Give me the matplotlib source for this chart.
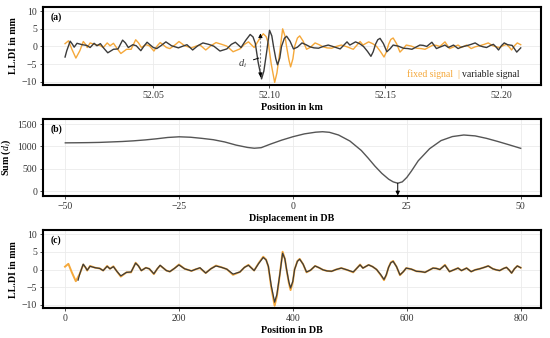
import numpy as np
import matplotlib
matplotlib.use("Agg")
import matplotlib.pyplot as plt
from matplotlib.offsetbox import TextArea, HPacker, AnchoredOffsetbox

plt.rcParams['font.family'] = ['Liberation Serif', 'DejaVu Serif']
plt.rcParams['mathtext.fontset'] = 'custom'
plt.rcParams['mathtext.rm'] = 'Liberation Serif'
plt.rcParams['mathtext.it'] = 'Liberation Serif:italic'
plt.rcParams['mathtext.bf'] = 'Liberation Serif:bold'

ORANGE = '#F5A83A'
DARK = '#3b3b3b'

# fixed signal, positions in DB (0.25 m steps) and values in mm
fixed_db = [0, 6, 12, 19, 26, 32, 36, 39, 44, 53, 61, 67, 74, 79, 85, 91, 98, 108, 116, 124,
            129, 134, 142, 148, 156, 162, 167, 172, 178, 184, 192, 200, 210, 222, 230, 237, 247,
            256, 265, 275, 284, 295, 307, 315, 322, 332, 340, 348, 353, 357, 362, 368, 372, 377,
            382, 386, 389, 393, 396, 400, 403, 408, 412, 418, 424, 431, 439, 446, 453, 460, 468,
            476, 485, 495, 506, 512, 518, 523, 533, 540, 547, 554, 560, 564, 568, 572, 576, 582,
            588, 594, 599, 608, 617, 625, 632, 639, 646, 652, 658, 667, 675, 684, 690, 696, 705,
            713, 720, 728, 736, 743, 751, 757, 763, 770, 775, 780, 784, 789, 794, 800]
fixed_mm = [0.8, 1.6, -0.8, -3.3, -1.2, 1.4, 0.6, -0.3, 1.0, 0.5, 0.3, -0.3, 1.0, 0.2, 0.9, -0.5,
            -2.0, -0.8, -0.8, 1.9, 1.0, -0.3, 0.5, 0.2, -1.3, 0.2, 1.1, 0.5, -0.3, -0.6, 0.3, 1.4,
            0.2, -0.4, 0.1, 0.4, -1.0, 0.2, 1.1, 0.6, 0.1, -1.5, -0.7, 0.6, 1.3, -0.3, 1.8, 3.6,
            2.8, 0.8, -5.0, -10.2, -7.5, -1.5, 5.0, 3.0, -0.1, -3.8, -5.8, -3.5, 0.0, 2.4, 3.0,
            1.5, -0.8, -0.2, 1.0, 0.5, -0.1, -0.4, -0.5, 0.0, 0.4, -0.1, -0.8, 0.3, 1.4, 0.4, 1.3,
            0.8, 0.0, -1.5, -3.0, -1.6, 0.6, 2.0, 2.4, 0.8, -1.6, -0.6, 0.4, 0.1, -0.5, -0.6, -0.8,
            -0.2, 0.4, 0.3, 0.0, 1.3, -0.6, 0.0, 0.4, -0.3, 0.4, -0.6, -0.1, 0.2, 0.6, 1.0, 0.2,
            -0.1, -0.3, 0.3, 0.6, -0.2, -1.0, 0.2, 1.0, 0.5]

# variable signal, positions in DB and values in mm
var_db = [0, 3, 9, 13, 16, 21, 30, 38, 44, 51, 56, 62, 68, 75, 85, 93, 101, 106, 111, 119, 125,
          133, 139, 144, 149, 155, 161, 169, 177, 187, 199, 207, 214, 224, 233, 242, 252, 261,
          272, 284, 292, 299, 309, 317, 325, 330, 334, 339, 345, 349, 354, 359, 363, 366, 370,
          373, 377, 380, 385, 389, 395, 401, 408, 416, 423, 430, 437, 445, 453, 462, 472, 483,
          489, 495, 500, 510, 517, 524, 531, 537, 541, 545, 549, 553, 559, 565, 571, 576, 585,
          594, 602, 609, 616, 623, 629, 635, 644, 652, 661, 667, 673, 682, 690, 697, 705, 713,
          720, 728, 734, 740, 747, 752, 757, 761, 766, 771, 777, 785, 793, 800]
var_mm = [-3.0, -1.2, 1.5, 0.6, -0.2, 0.9, 0.5, 0.3, -0.3, 0.9, 0.2, 0.8, -0.5, -1.8, -0.8, -0.7,
          1.8, 1.0, -0.3, 0.5, 0.2, -1.2, 0.2, 1.2, 0.5, -0.3, -0.6, 0.3, 1.3, 0.2, -0.4, 0.1, 0.5,
          -1.0, 0.2, 1.0, 0.6, 0.1, -1.3, -0.7, 0.6, 1.2, -0.3, 1.7, 3.4, 2.7, 0.9, -4.5, -9.2,
          -7.0, -1.5, 4.6, 3.0, 0.0, -3.5, -5.2, -3.3, 0.0, 2.3, 2.9, 1.5, -0.7, -0.2, 1.0, 0.5,
          -0.1, -0.4, -0.5, 0.0, 0.4, -0.1, -0.7, 0.3, 1.3, 0.4, 1.3, 0.8, 0.0, -1.4, -2.8, -1.5,
          0.6, 1.9, 2.3, 0.8, -1.5, -0.6, 0.4, 0.1, -0.5, -0.6, -0.8, -0.2, 0.4, 0.3, 0.0, 1.2,
          -0.6, 0.0, 0.4, -0.3, 0.4, -0.6, -0.1, 0.2, 0.6, 1.0, 0.2, -0.1, -0.3, 0.3, 0.6, -0.2,
          -1.0, 0.2, 1.0, 0.5, 0.3, -1.6, -0.4]

# sum of differences per displacement
disp_db = [-50, -47.5, -45, -42.5, -40, -37.5, -35, -32.5, -30, -27.5, -25, -22.5, -20, -17.5,
           -15, -12.5, -10, -8.5, -7, -5, -2.5, 0, 2.5, 5, 6.5, 8, 10, 12.5, 15, 16.5, 18,
           19.5, 21, 22, 23, 24, 25, 26, 27.5, 30, 32.5, 35, 37.5, 40, 42.5, 45, 47.5, 50]
sum_d = [1080, 1082, 1085, 1090, 1100, 1110, 1125, 1145, 1170, 1200, 1215, 1205, 1180, 1150,
         1100, 1030, 978, 960, 972, 1050, 1140, 1217, 1280, 1318, 1328, 1315, 1255, 1120, 910,
         740, 560, 400, 270, 210, 180, 210, 310, 450, 680, 950, 1130, 1220, 1255, 1235, 1180,
         1110, 1035, 958]

best_shift = 23
start_km = 52.0121
db_km = 0.0002455
marker_db = 343

fixed_km = start_km + np.array(fixed_db) * db_km
var_km = start_km + np.array(var_db) * db_km
var_shift = np.array(var_db) + best_shift
keep = var_shift <= 800

fig = plt.figure(figsize=(5.5, 3.38), dpi=100)
W, H = 550.0, 338.0


def make_ax(top, bottom):
    ax = fig.add_axes([43 / W, 1 - bottom / H, (541 - 43) / W, (bottom - top) / H])
    for s in ax.spines.values():
        s.set_linewidth(1.5)
        s.set_color('black')
        s.set_zorder(5)
    ax.grid(True, color='#ebebeb', lw=0.6)
    ax.set_axisbelow(True)
    ax.tick_params(length=2.2, width=0.6, labelsize=7, pad=2, colors='#333333')
    return ax


# (a)
ax1 = make_ax(7, 85)
ax1.plot(fixed_km, fixed_mm, color=ORANGE, lw=1.0)
ax1.plot(var_km, var_mm, color=DARK, lw=1.0)
ax1.set_xlim(52.00259, 52.21724)
ax1.set_ylim(-10.94, 11.2)
ax1.set_xticks([52.05, 52.10, 52.15, 52.20])
ax1.set_xticklabels(['52.05', '52.10', '52.15', '52.20'])
ax1.set_yticks([-10, -5, 0, 5, 10])
ax1.set_xlabel('Position in km', fontsize=7.2, fontweight='bold', labelpad=2)
ax1.set_ylabel('LL.DI in mm', fontsize=7.2, fontweight='bold', labelpad=3)
ax1.text(0.015, 0.93, '(a)', transform=ax1.transAxes, fontsize=7, fontweight='bold', va='top')
mk = start_km + marker_db * db_km
ax1.plot([mk, mk], [2.6, -7.6], ls=(0, (2, 1.5)), color='#888888', lw=0.8)
ax1.annotate('', xy=(mk, 3.7), xytext=(mk, 2.4),
             arrowprops=dict(arrowstyle='-|>', color='black', lw=0.6, mutation_scale=6))
ax1.annotate('', xy=(mk, -8.7), xytext=(mk, -7.4),
             arrowprops=dict(arrowstyle='-|>', color='black', lw=0.6, mutation_scale=6))
ax1.annotate(r'$d_i$', xy=(start_km + 340 * db_km, -3.3), xytext=(start_km + 311 * db_km, -4.8),
             fontsize=7.5, color=DARK, ha='center', va='center',
             arrowprops=dict(arrowstyle='-', color='black', lw=0.7, shrinkA=3, shrinkB=0))
leg = HPacker(children=[TextArea('fixed signal', textprops=dict(color=ORANGE, size=7)),
                        TextArea('|', textprops=dict(color=ORANGE, size=7)),
                        TextArea('variable signal', textprops=dict(color='#222222', size=7))],
              align='baseline', pad=0, sep=2.5)
ax1.add_artist(AnchoredOffsetbox(loc='lower right', child=leg, frameon=False,
                                 bbox_to_anchor=(0.958, 0.08), bbox_transform=ax1.transAxes,
                                 borderpad=0, pad=0))

# (b)
ax2 = make_ax(119.3, 196)
ax2.plot(disp_db, sum_d, color='#555555', lw=1.0)
ax2.set_xlim(-54.9, 54.46)
ax2.set_ylim(-105, 1605)
ax2.set_xticks([-50, -25, 0, 25, 50])
ax2.set_xticklabels(['\u221250', '\u221225', '0', '25', '50'])
ax2.set_yticks([0, 500, 1000, 1500])
ax2.set_xlabel('Displacement in DB', fontsize=7.2, fontweight='bold', labelpad=2)
ax2.set_ylabel(r'Sum ($d_i$)', fontsize=7.2, fontweight='bold', labelpad=3)
ax2.text(0.015, 0.93, '(b)', transform=ax2.transAxes, fontsize=7, fontweight='bold', va='top')
ax2.annotate('', xy=(best_shift, -95), xytext=(best_shift, 180),
             arrowprops=dict(arrowstyle='-|>', color='black', lw=0.7, mutation_scale=6,
                             shrinkA=0, shrinkB=0))

# (c)
ax3 = make_ax(230, 308.3)
ax3.plot(fixed_db, fixed_mm, color=ORANGE, lw=1.4)
ax3.plot(var_shift[keep], np.array(var_mm)[keep], color=DARK, lw=0.9)
ax3.set_xlim(-38.6, 835.6)
ax3.set_ylim(-10.93, 11.13)
ax3.set_xticks([0, 200, 400, 600, 800])
ax3.set_yticks([-10, -5, 0, 5, 10])
ax3.set_xlabel('Position in DB', fontsize=7.2, fontweight='bold', labelpad=2)
ax3.set_ylabel('LL.DI in mm', fontsize=7.2, fontweight='bold', labelpad=3)
ax3.text(0.015, 0.93, '(c)', transform=ax3.transAxes, fontsize=7, fontweight='bold', va='top')

for ax in (ax1, ax3):
    ax.set_yticklabels(['\u221210', '\u22125', '0', '5', '10'])

fig.savefig('out.png', dpi=100)
